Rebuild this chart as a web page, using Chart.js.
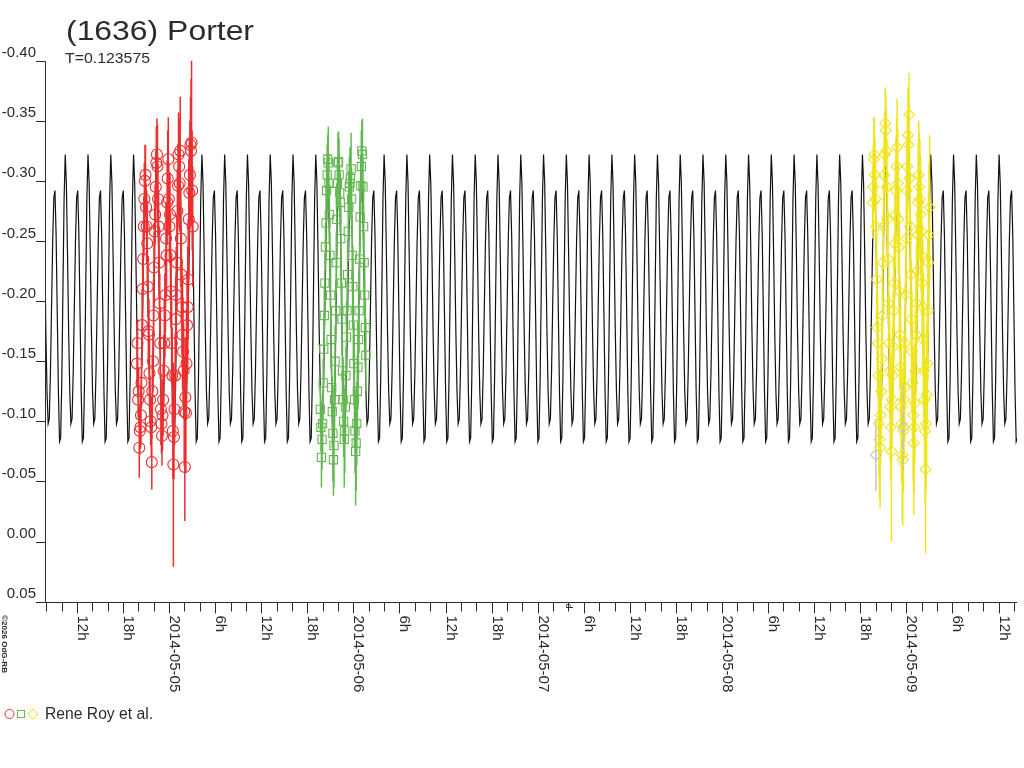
<!DOCTYPE html>
<html><head><meta charset="utf-8">
<script src="https://cdn.jsdelivr.net/npm/chart.js@4.4.1/dist/chart.umd.min.js"></script>
<style>html,body{margin:0;padding:0;background:#fff;}canvas{display:block;}</style>
</head><body>
<canvas id="c" width="1024" height="768" style="width:1024px;height:768px"></canvas>
<script>
// ---- text ----
const TITLE = '(1636) Porter';
const SUBTITLE = 'T=0.123575';
const LEGEND_TEXT = 'Rene Roy et al.';
const COPYRIGHT = '\u00A92026 OdG-RB';
const AXIS_UNIT = 'd';

// ---- axes (x in hours from 2014-05-04 00:00 UT) ----
const X_MIN_H = 7.91, X_MAX_H = 134.42;
const Y_MIN = -0.40, Y_MAX = 0.05;
const Y_TICKS = [-0.40,-0.35,-0.30,-0.25,-0.20,-0.15,-0.10,-0.05,0.00,0.05];
const X_DATES = ['2014-05-04','2014-05-05','2014-05-06','2014-05-07','2014-05-08','2014-05-09'];

// ---- model light curve: one period ----
const PERIOD_DAYS = 0.123575;
const EPOCH_H = 25.307; // time of the brighter maximum
const curvePhase = [0.00,0.05,0.10,0.15,0.20,0.25,0.30,0.35,0.40,0.45,0.50,0.55,0.60,0.65,0.70,0.75,0.80,0.85,0.90,0.95];
const curveMag   = [-0.322,-0.298,-0.240,-0.175,-0.125,-0.098,-0.102,-0.140,-0.195,-0.250,-0.286,-0.292,-0.255,-0.190,-0.125,-0.083,-0.086,-0.135,-0.210,-0.285];

// ---- observations [hour, mag, error] ----
const redObs = [
[19.82,-0.148,0.020],[19.89,-0.165,0.020],[19.97,-0.118,0.015],[20.04,-0.125,0.020],[20.12,-0.078,0.025],
[20.19,-0.092,0.020],[20.27,-0.095,0.018],[20.34,-0.105,0.025],[20.41,-0.132,0.020],[20.49,-0.180,0.030],
[20.56,-0.210,0.030],[20.63,-0.235,0.025],[20.71,-0.262,0.025],[20.78,-0.285,0.030],[20.86,-0.300,0.030],
[20.93,-0.305,0.025],[21.01,-0.278,0.020],[21.08,-0.262,0.030],[21.16,-0.248,0.035],[21.23,-0.212,0.025],
[21.30,-0.175,0.025],[21.38,-0.172,0.030],[21.45,-0.140,0.030],[21.53,-0.118,0.020],[21.60,-0.100,0.020],
[21.68,-0.095,0.025],[21.75,-0.066,0.023],[21.82,-0.125,0.030],[21.90,-0.150,0.025],[21.97,-0.188,0.030],
[22.04,-0.228,0.030],[22.12,-0.258,0.025],[22.19,-0.272,0.025],[22.27,-0.295,0.030],[22.34,-0.315,0.030],
[22.42,-0.322,0.030],[22.49,-0.312,0.035],[22.56,-0.285,0.030],[22.64,-0.262,0.030],[22.71,-0.232,0.030],
[22.79,-0.198,0.025],[22.86,-0.165,0.030],[22.93,-0.110,0.030],[23.01,-0.098,0.025],[23.08,-0.088,0.025],
[23.15,-0.105,0.030],[23.23,-0.118,0.030],[23.30,-0.142,0.030],[23.38,-0.165,0.035],[23.45,-0.188,0.035],
[23.53,-0.205,0.030],[23.60,-0.252,0.030],[23.67,-0.238,0.035],[23.75,-0.282,0.035],[23.82,-0.302,0.040],
[23.90,-0.318,0.035],[23.97,-0.285,0.030],[24.04,-0.262,0.030],[24.12,-0.272,0.035],[24.19,-0.238,0.035],
[24.27,-0.208,0.030],[24.34,-0.165,0.035],[24.42,-0.138,0.040],[24.49,-0.092,0.040],[24.56,-0.064,0.085],
[24.64,-0.087,0.035],[24.71,-0.110,0.030],[24.79,-0.138,0.035],[24.86,-0.185,0.035],[24.93,-0.205,0.040],
[25.01,-0.232,0.040],[25.08,-0.275,0.035],[25.16,-0.296,0.035],[25.23,-0.322,0.035],[25.31,-0.312,0.040],
[25.38,-0.298,0.040],[25.45,-0.325,0.045],[25.53,-0.252,0.040],[25.60,-0.222,0.035],[25.67,-0.195,0.040],
[25.75,-0.172,0.045],[25.82,-0.158,0.045],[25.90,-0.142,0.040],[25.97,-0.108,0.045],[26.05,-0.062,0.045],
[26.12,-0.120,0.050],[26.19,-0.107,0.050],[26.27,-0.148,0.045],[26.34,-0.180,0.045],[26.42,-0.195,0.050],
[26.49,-0.218,0.050],[26.56,-0.268,0.050],[26.64,-0.290,0.045],[26.71,-0.305,0.045],[26.79,-0.330,0.040],
[26.86,-0.325,0.060],[26.93,-0.332,0.070],[27.01,-0.292,0.050],[27.08,-0.262,0.050]
];
const greenObs = [
[43.70,-0.110,0.020],[43.77,-0.095,0.020],[43.84,-0.070,0.025],[43.92,-0.085,0.025],[43.99,-0.098,0.025],
[44.07,-0.132,0.020],[44.14,-0.160,0.030],[44.21,-0.188,0.025],[44.29,-0.215,0.025],[44.36,-0.245,0.020],
[44.44,-0.265,0.030],[44.51,-0.292,0.025],[44.58,-0.305,0.025],[44.66,-0.318,0.020],[44.73,-0.315,0.030],
[44.81,-0.298,0.025],[44.88,-0.272,0.025],[44.95,-0.238,0.020],[45.03,-0.205,0.030],[45.10,-0.168,0.025],
[45.18,-0.128,0.025],[45.25,-0.108,0.030],[45.33,-0.090,0.040],[45.40,-0.068,0.030],[45.47,-0.080,0.035],
[45.55,-0.118,0.025],[45.62,-0.150,0.030],[45.70,-0.192,0.025],[45.77,-0.232,0.025],[45.84,-0.268,0.030],
[45.92,-0.298,0.020],[45.99,-0.315,0.025],[46.07,-0.316,0.025],[46.14,-0.305,0.030],[46.22,-0.290,0.020],
[46.29,-0.282,0.025],[46.36,-0.252,0.030],[46.44,-0.215,0.025],[46.51,-0.185,0.030],[46.58,-0.142,0.025],
[46.66,-0.118,0.035],[46.73,-0.100,0.030],[46.81,-0.085,0.040],[46.88,-0.092,0.035],[46.96,-0.112,0.030],
[47.03,-0.138,0.025],[47.11,-0.170,0.030],[47.18,-0.192,0.025],[47.25,-0.222,0.030],[47.33,-0.258,0.025],
[47.40,-0.278,0.030],[47.47,-0.295,0.025],[47.55,-0.298,0.030],[47.62,-0.302,0.025],[47.70,-0.310,0.030],
[47.77,-0.285,0.025],[47.85,-0.238,0.030],[47.92,-0.212,0.035],[47.99,-0.180,0.030],[48.07,-0.148,0.035],
[48.14,-0.118,0.040],[48.21,-0.092,0.035],[48.29,-0.075,0.045],[48.36,-0.082,0.040],[48.44,-0.098,0.035],
[48.51,-0.125,0.030],[48.59,-0.145,0.035],[48.66,-0.168,0.030],[48.74,-0.192,0.035],[48.81,-0.235,0.030],
[48.88,-0.270,0.030],[48.96,-0.296,0.025],[49.03,-0.312,0.030],[49.10,-0.325,0.025],[49.18,-0.322,0.030],
[49.25,-0.295,0.025],[49.33,-0.262,0.030],[49.40,-0.232,0.025],[49.48,-0.205,0.030],[49.55,-0.178,0.025],
[49.62,-0.155,0.030]
];
const yellowObs = [
[115.62,-0.282,0.030],[115.69,-0.295,0.035],[115.76,-0.318,0.035],[115.84,-0.322,0.030],[115.91,-0.305,0.030],
[115.99,-0.285,0.035],[116.06,-0.262,0.040],[116.14,-0.218,0.040],[116.21,-0.178,0.035],[116.28,-0.165,0.040],
[116.36,-0.138,0.045],[116.43,-0.098,0.045],[116.51,-0.085,0.050],[116.58,-0.078,0.050],[116.65,-0.105,0.040],
[116.73,-0.125,0.040],[116.80,-0.152,0.035],[116.88,-0.188,0.040],[116.95,-0.232,0.040],[117.02,-0.262,0.035],
[117.10,-0.305,0.035],[117.17,-0.322,0.035],[117.25,-0.348,0.030],[117.32,-0.342,0.030],[117.40,-0.325,0.035],
[117.47,-0.295,0.040],[117.54,-0.268,0.040],[117.62,-0.235,0.040],[117.69,-0.198,0.035],[117.77,-0.165,0.040],
[117.84,-0.142,0.040],[117.91,-0.112,0.045],[117.99,-0.095,0.045],[118.06,-0.075,0.075],[118.14,-0.118,0.040],
[118.21,-0.138,0.040],[118.28,-0.162,0.045],[118.36,-0.192,0.045],[118.43,-0.215,0.040],[118.51,-0.248,0.040],
[118.58,-0.272,0.045],[118.65,-0.292,0.045],[118.73,-0.312,0.040],[118.80,-0.328,0.040],[118.88,-0.298,0.045],
[118.95,-0.268,0.045],[119.03,-0.245,0.050],[119.10,-0.208,0.050],[119.17,-0.172,0.045],[119.25,-0.145,0.050],
[119.32,-0.112,0.050],[119.39,-0.098,0.050],[119.47,-0.072,0.055],[119.54,-0.068,0.055],[119.62,-0.092,0.050],
[119.69,-0.118,0.050],[119.77,-0.128,0.045],[119.84,-0.165,0.050],[119.91,-0.205,0.050],[119.99,-0.252,0.045],
[120.06,-0.292,0.045],[120.13,-0.312,0.045],[120.21,-0.338,0.040],[120.28,-0.330,0.040],[120.36,-0.355,0.035],
[120.43,-0.302,0.040],[120.51,-0.262,0.045],[120.58,-0.222,0.045],[120.66,-0.185,0.050],[120.73,-0.158,0.050],
[120.80,-0.132,0.050],[120.88,-0.105,0.055],[120.95,-0.082,0.060],[121.02,-0.095,0.055],[121.10,-0.115,0.050],
[121.17,-0.142,0.050],[121.25,-0.172,0.050],[121.32,-0.198,0.050],[121.40,-0.225,0.045],[121.47,-0.255,0.045],
[121.54,-0.282,0.050],[121.62,-0.305,0.045],[121.69,-0.295,0.045],[121.76,-0.285,0.050],[121.84,-0.272,0.050],
[121.91,-0.258,0.050],[121.99,-0.238,0.050],[122.06,-0.215,0.050],[122.14,-0.195,0.055],[122.21,-0.168,0.055],
[122.29,-0.142,0.050],[122.36,-0.118,0.055],[122.43,-0.092,0.060],[122.50,-0.060,0.070],[122.58,-0.098,0.055],
[122.65,-0.122,0.060],[122.73,-0.148,0.050],[122.80,-0.192,0.060],[122.88,-0.232,0.060],[122.95,-0.255,0.060],
[123.03,-0.278,0.060]
];
const greyObs = [[116.03,-0.072,0.030],[119.60,-0.095,0.035]];

// ---- colours ----
const RED = '#ee2e2e', GREEN = '#62b850', YELLOW = '#f0e41c', GREY = '#c4c4c4', INK = '#2b2b2b';
const FONT = "'Liberation Sans', Arial, Helvetica, sans-serif";

// ---- build library data ----
const PERIOD_H = PERIOD_DAYS * 24;
const curvePts = [];
{
  const n0 = Math.floor((X_MIN_H - EPOCH_H) / PERIOD_H) - 1;
  const n1 = Math.ceil((X_MAX_H - EPOCH_H) / PERIOD_H) + 1;
  for (let n = n0; n <= n1; n++) {
    for (let j = 0; j < curvePhase.length; j++) {
      const t = EPOCH_H + (n + curvePhase[j]) * PERIOD_H;
      if (t >= X_MIN_H - 0.3 && t <= X_MAX_H + 0.3) curvePts.push({x: t, y: curveMag[j]});
    }
  }
}
const toPts = arr => arr.map(r => ({x: r[0], y: r[1]}));
const series = [
  {obs: redObs, color: RED, style: 'circle', radius: 5.5},
  {obs: greenObs, color: GREEN, style: 'rect', radius: 5.8},
  {obs: yellowObs, color: YELLOW, style: 'rectRot', radius: 5.5},
  {obs: greyObs, color: GREY, style: 'rectRot', radius: 5.5}
];
const datasets = series.map(s => ({
  data: toPts(s.obs), showLine: false,
  pointStyle: s.style, pointRadius: s.radius, pointHoverRadius: s.radius,
  pointBorderColor: s.color, borderColor: s.color,
  pointBackgroundColor: 'rgba(0,0,0,0)', backgroundColor: 'rgba(0,0,0,0)',
  pointBorderWidth: 1.1
}));
const CURVE_INDEX = datasets.length;
datasets.push({
  data: curvePts, showLine: true, pointRadius: 0, pointHoverRadius: 0,
  borderColor: '#111111', borderWidth: 1.2, tension: 0, fill: false
});

function drawFit(ctx, text, x, y, size, targetW, rot, weight) {
  ctx.save();
  ctx.font = (weight ? weight + ' ' : '') + size + 'px ' + FONT;
  ctx.translate(x, y);
  if (rot) ctx.rotate(rot);
  if (targetW) { const w = ctx.measureText(text).width; if (w > 0) ctx.scale(targetW / w, 1); }
  ctx.fillText(text, 0, 0);
  ctx.restore();
}

const overlay = {
  id: 'overlay',
  afterDatasetDraw(chart, args) {
    if (args.index !== CURVE_INDEX) return;
    const ctx = chart.ctx, xs = chart.scales.x, ys = chart.scales.y, a = chart.chartArea;
    ctx.save();
    ctx.beginPath(); ctx.rect(a.left, a.top, a.right - a.left, a.bottom - a.top); ctx.clip();
    ctx.lineWidth = 1.5;
    series.forEach(s => {
      ctx.strokeStyle = s.color;
      ctx.beginPath();
      s.obs.forEach(r => {
        const x = xs.getPixelForValue(r[0]);
        ctx.moveTo(x, ys.getPixelForValue(r[1] - r[2]));
        ctx.lineTo(x, ys.getPixelForValue(r[1] + r[2]));
      });
      ctx.stroke();
    });
    ctx.restore();
  },
  afterDraw(chart) {
    const ctx = chart.ctx, xs = chart.scales.x, ys = chart.scales.y, a = chart.chartArea;
    ctx.save();
    ctx.strokeStyle = INK; ctx.fillStyle = INK; ctx.lineWidth = 1;
    const axX = Math.round(a.left) - 0.5;
    const axY = Math.round(a.bottom) + 0.5;
    ctx.beginPath();
    ctx.moveTo(axX, Math.round(a.top) + 0.5); ctx.lineTo(axX, axY);
    ctx.moveTo(axX, axY); ctx.lineTo(a.right, axY);
    // y ticks
    Y_TICKS.forEach(v => {
      const y = Math.round(ys.getPixelForValue(v)) + 0.5;
      ctx.moveTo(36, y); ctx.lineTo(axX, y);
    });
    // x ticks every 2 h
    for (let h = Math.ceil(X_MIN_H / 2) * 2; h <= X_MAX_H; h += 2) {
      const x = Math.round(xs.getPixelForValue(h)) + 0.5;
      ctx.moveTo(x, axY); ctx.lineTo(x, axY + (h % 6 === 0 ? 11 : 9));
    }
    ctx.stroke();

    // y labels
    ctx.textAlign = 'right'; ctx.textBaseline = 'alphabetic';
    ctx.font = '15px ' + FONT;
    Y_TICKS.forEach(v => {
      const y = ys.getPixelForValue(v);
      const lab = Math.abs(v) < 1e-9 ? '0.00' : v.toFixed(2);
      ctx.fillText(lab, 36, y - 3.5);
    });
    // x labels, rotated clockwise
    ctx.textAlign = 'left';
    for (let h = Math.ceil(X_MIN_H / 6) * 6; h <= X_MAX_H; h += 6) {
      const x = Math.round(xs.getPixelForValue(h)) + 0.5;
      const lab = (h % 24 === 0) ? X_DATES[h / 24] : (h % 24) + 'h';
      drawFit(ctx, lab, x, axY + 13, 15, 0, Math.PI / 2);
    }
    // unit mark
    drawFit(ctx, AXIS_UNIT, 566, axY + 1, 9, 0, Math.PI / 2);
    // copyright
    drawFit(ctx, COPYRIGHT, 1.5, 615, 8, 58, Math.PI / 2, 'bold');

    // title & subtitle
    drawFit(ctx, TITLE, 66, 39.5, 27, 188, 0);
    drawFit(ctx, SUBTITLE, 65, 63, 14, 85, 0);

    // legend
    ctx.lineWidth = 1;
    ctx.strokeStyle = RED;
    ctx.beginPath(); ctx.arc(9.5, 714, 4.5, 0, Math.PI * 2); ctx.stroke();
    ctx.strokeStyle = GREEN;
    ctx.strokeRect(17.5, 710.5, 7, 7);
    ctx.strokeStyle = YELLOW;
    ctx.beginPath(); ctx.moveTo(33, 709); ctx.lineTo(38, 714); ctx.lineTo(33, 719); ctx.lineTo(28, 714); ctx.closePath(); ctx.stroke();
    ctx.fillStyle = INK;
    drawFit(ctx, LEGEND_TEXT, 45, 719, 16, 108, 0);
    ctx.restore();
  }
};

new Chart(document.getElementById('c').getContext('2d'), {
  type: 'scatter',
  data: {datasets},
  options: {
    responsive: false, animation: false, devicePixelRatio: 1,
    layout: {padding: {left: 45.5, right: 2, top: 60.7, bottom: 166.4}},
    scales: {
      x: {type: 'linear', min: X_MIN_H, max: X_MAX_H, display: false},
      y: {type: 'linear', min: Y_MIN, max: Y_MAX, reverse: true, display: false}
    },
    plugins: {legend: {display: false}, tooltip: {enabled: false}, title: {display: false}},
    events: []
  },
  plugins: [overlay]
});
</script>
</body></html>
